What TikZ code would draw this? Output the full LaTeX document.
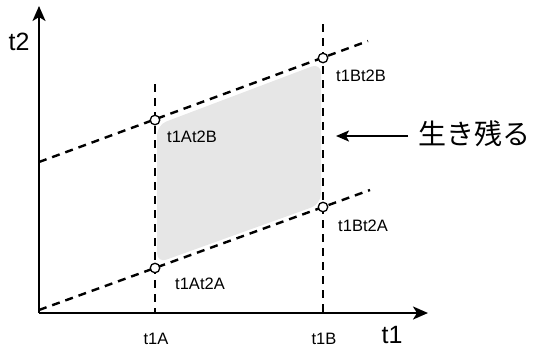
\documentclass[tikz,border=0pt]{standalone}
\usepackage{fontspec}
\setmainfont{Liberation Sans}
\newfontfamily\jpfont{Noto Sans CJK JP}
\usetikzlibrary{arrows.meta}
\definecolor{regiongray}{HTML}{E6E6E6}
\tikzset{
  axis/.style={line width=2.4pt,-{Stealth[length=15pt,width=13pt,inset=4pt]}},
  dashline/.style={line width=2.4pt,dash pattern=on 8pt off 6pt},
  pt/.style={circle,draw=black,line width=1.3pt,fill=white,inner sep=0pt,minimum size=9.5pt},
  lbl/.style={font=\fontsize{16.5}{19}\selectfont,inner sep=0pt},
  axlbl/.style={font=\fontsize{25}{30}\selectfont,inner sep=0pt}
}
\begin{document}
\begin{tikzpicture}[x=1pt,y=-1pt]
\useasboundingbox (0,0) rectangle (534,349);
% shaded region
\fill[regiongray,rounded corners=10pt] (157,125) -- (321,63) -- (321,204) -- (157,263) -- cycle;
% coordinates
\coordinate (O) at (39,313);
\coordinate (ytip) at (39,6);
\coordinate (xtip) at (428,313);
\coordinate (lowS) at (39,310);
\coordinate (lowE) at (370,190);
\coordinate (upS) at (39,162);
\coordinate (upE) at (368,41);
\coordinate (aTop) at (155,84);
\coordinate (aBot) at (155,313);
\coordinate (bTop) at (323,24);
\coordinate (bBot) at (323,313);
% dashed lines
\draw[dashline] (lowS) -- (lowE);
\draw[dashline] (upS) -- (upE);
\draw[dashline] (aTop) -- (aBot);
\draw[dashline] (bTop) -- (bBot);
% axes
\draw[axis] (O) -- (ytip);
\draw[axis] (O) -- (xtip);
% points
\node[pt] (AB) at (155,120) {};
\node[pt] (AA) at (155,268) {};
\node[pt] (BB) at (323,58) {};
\node[pt] (BA) at (323,207) {};
% labels
\node[axlbl] (t2) at (19,42) {t2};
\node[axlbl] (t1) at (392,335) {t1};
\node[lbl] (t1A) at (156,339) {t1A};
\node[lbl] (t1B) at (324,339) {t1B};
\node[lbl] (lAB) at (192,137) {t1At2B};
\node[lbl] (lAA) at (200,284) {t1At2A};
\node[lbl] (lBB) at (361,76) {t1Bt2B};
\node[lbl] (lBA) at (363,226) {t1Bt2A};
% survive label and arrow
\node[font=\jpfont\fontsize{28}{32}\selectfont,inner sep=0pt] (surv) at (474,134) {生き残る};
\coordinate (arrS) at (408,136);
\coordinate (arrE) at (336,136);
\draw[line width=2pt,-{Stealth[length=13pt,width=11pt,inset=3pt]}] (arrS) -- (arrE);
\end{tikzpicture}
\end{document}
